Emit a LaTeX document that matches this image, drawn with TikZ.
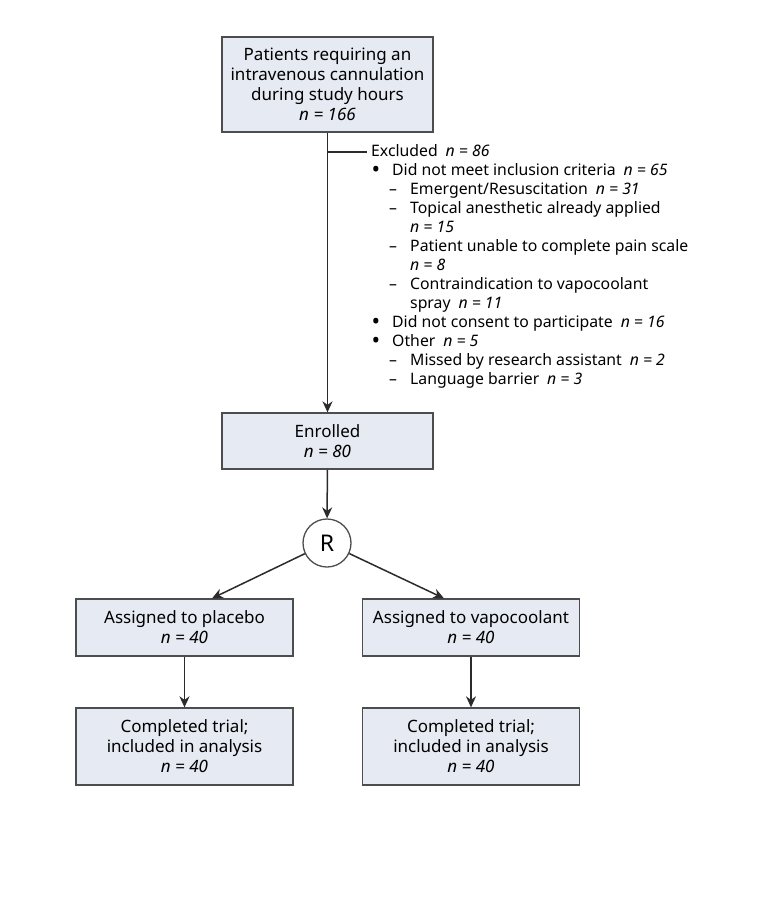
\documentclass[tikz,border=0pt]{standalone}
\usepackage{fontspec}
\setmainfont{Noto Sans}
\usetikzlibrary{arrows.meta}
\definecolor{boxfill}{HTML}{E6EAF2}
\definecolor{boxline}{HTML}{4D4D4D}
\definecolor{linec}{HTML}{2B2B2B}
\newcommand{\exbul}{\hspace*{0.5pt}\makebox[20.5pt][l]{\smash{\raisebox{-2.3pt}{\scalebox{1.45}{•}}}}}
\newcommand{\exdsh}{\hspace*{18pt}\makebox[21pt][l]{–}}
\newcommand{\excnt}{\hspace*{39pt}}
\begin{document}
\begin{tikzpicture}[x=1pt,y=-1pt,
  box/.style={draw=boxline, fill=boxfill, line width=1.3pt, inner sep=0pt, align=center,
    font=\fontsize{17}{20}\selectfont},
  conn/.style={draw=linec, line width=1.5pt, -{Stealth[length=11pt,width=10pt,inset=3.5pt]}},
  plain/.style={draw=linec, line width=1.5pt}]
\useasboundingbox[fill=white] (0,0) rectangle (769,900);

\node[box, minimum width=211pt, minimum height=95pt] (pat) at (327.5,84.5)
  {Patients requiring an\\intravenous cannulation\\during study hours\\\textit{n = 166}};
\node[box, minimum width=211pt, minimum height=56pt] (enr) at (327.5,441)
  {Enrolled\\\textit{n = 80}};
\node[circle, draw=boxline, fill=white, line width=1.3pt, minimum size=48pt, inner sep=0pt,
  font=\fontsize{23}{26}\selectfont] (R) at (327,543) {R};
\node[box, minimum width=217pt, minimum height=57pt] (pla) at (184.5,627.5)
  {Assigned to placebo\\\textit{n = 40}};
\node[box, minimum width=217pt, minimum height=57pt] (vap) at (471,627.5)
  {Assigned to vapocoolant\\\textit{n = 40}};
\node[box, minimum width=217pt, minimum height=77pt] (cpl) at (184.5,746.5)
  {Completed trial;\\included in analysis\\\textit{n = 40}};
\node[box, minimum width=217pt, minimum height=77pt] (cvp) at (471,746.5)
  {Completed trial;\\included in analysis\\\textit{n = 40}};

\node[anchor=base west, inner sep=0pt, align=left, font=\fontsize{15.8}{19}\selectfont] (excl) at (371,384)
  {Excluded\enspace\textit{n = 86}\\
   \exbul Did not meet inclusion criteria\enspace\textit{n = 65}\\
   \exdsh Emergent/Resuscitation\enspace\textit{n = 31}\\
   \exdsh Topical anesthetic already applied\\
   \excnt\textit{n = 15}\\
   \exdsh Patient unable to complete pain scale\\
   \excnt\textit{n = 8}\\
   \exdsh Contraindication to vapocoolant\\
   \excnt spray\enspace\textit{n = 11}\\
   \exbul Did not consent to participate\enspace\textit{n = 16}\\
   \exbul Other\enspace\textit{n = 5}\\
   \exdsh Missed by research assistant\enspace\textit{n = 2}\\
   \exdsh Language barrier\enspace\textit{n = 3}};

\coordinate (exj) at (327.5,152);
\coordinate (exe) at (367,152);
\draw[plain] (exj) -- (exe);

\draw[conn] (pat) -- (enr);
\draw[conn] (enr) -- (R);
\draw[conn] (R) -- ([xshift=27.5pt]pla.north);
\draw[conn] (R) -- ([xshift=-27pt]vap.north);
\draw[conn] (pla) -- (cpl);
\draw[conn] (vap) -- (cvp);
\end{tikzpicture}
\end{document}
